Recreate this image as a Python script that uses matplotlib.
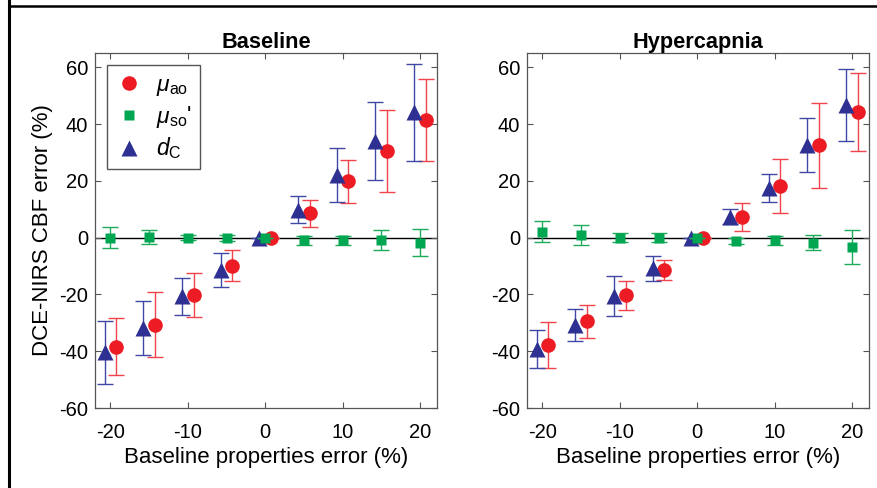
"""DCE-NIRS CBF error vs baseline properties error (two panels)."""

import matplotlib
matplotlib.use("agg")
import matplotlib.pyplot as plt
from matplotlib.lines import Line2D
import numpy as np

plt.rcParams["font.family"] = ["Liberation Sans", "DejaVu Sans"]
plt.rcParams["mathtext.fontset"] = "custom"
plt.rcParams["mathtext.rm"] = "Liberation Sans"
plt.rcParams["mathtext.it"] = "Liberation Sans:italic"
plt.rcParams["axes.unicode_minus"] = False

# baseline property errors (%)
prop_err = [-20, -15, -10, -5, 0, 5, 10, 15, 20]

# Baseline panel
base_mua = [-38.4, -30.7, -20.3, -9.9, 0.0, 8.6, 19.8, 30.5, 41.4]
base_mua_sd = [10.0, 11.4, 7.8, 5.4, 0.0, 4.7, 7.7, 14.5, 14.4]
base_mus = [0.0, 0.3, 0.0, -0.2, 0.0, -1.0, -1.0, -0.8, -1.8]
base_mus_sd = [3.7, 2.5, 1.0, 1.0, 0.0, 1.5, 1.5, 3.5, 4.7]
base_dc = [-40.4, -31.7, -20.6, -11.4, 0.0, 9.8, 22.0, 34.0, 44.1]
base_dc_sd = [11.0, 9.5, 6.5, 6.0, 0.0, 4.8, 9.5, 13.8, 17.0]

# Hypercapnia panel
hyper_mua = [-37.8, -29.5, -20.3, -11.4, 0.0, 7.2, 18.3, 32.5, 44.1]
hyper_mua_sd = [8.0, 5.8, 5.1, 3.5, 0.0, 5.0, 9.5, 15.0, 13.7]
hyper_mus = [2.1, 1.0, 0.0, 0.0, 0.0, -1.2, -1.0, -1.8, -3.4]
hyper_mus_sd = [3.8, 3.5, 1.5, 1.5, 0.0, 1.2, 1.5, 2.6, 6.0]
hyper_dc = [-39.2, -30.9, -20.6, -10.8, 0.0, 7.4, 17.5, 32.5, 46.6]
hyper_dc_sd = [6.8, 5.6, 7.0, 4.5, 0.0, 2.5, 5.0, 9.5, 12.7]

panel_titles = ["Baseline", "Hypercapnia"]
series_labels = [r"$\mu_{\rm ao}$", r"$\mu_{\rm so}$'", r"$d_{\rm C}$"]

RED, RED_BAR = "#ED1C24", "#F0434A"
GREEN, GREEN_BAR = "#00A651", "#1DAA5A"
BLUE, BLUE_BAR = "#2E3192", "#4048A6"
SPINE = "#555555"

fig = plt.figure(figsize=(8.78, 4.88), dpi=100)

# outer frame lines (left and top) of the original figure
fig.add_artist(Line2D([0.0105, 0.0105], [0, 1.0], transform=fig.transFigure,
                      color="black", lw=2.2))
fig.add_artist(Line2D([0.0105, 1.0], [0.988, 0.988], transform=fig.transFigure,
                      color="black", lw=1.8))

panels = [
    (base_mua, base_mua_sd, base_mus, base_mus_sd, base_dc, base_dc_sd),
    (hyper_mua, hyper_mua_sd, hyper_mus, hyper_mus_sd, hyper_dc, hyper_dc_sd),
]
lefts = [0.1082, 0.6002]
x = np.array(prop_err, dtype=float)
dx = 0.75

for i, (mua, mua_sd, mus, mus_sd, dc, dc_sd) in enumerate(panels):
    ax = fig.add_axes([lefts[i], 0.1639, 0.3895, 0.7275])
    ax.axhline(0, color="black", lw=1.0, zorder=1)

    ax.errorbar(x + dx, mua, yerr=mua_sd, fmt="none", ecolor=RED_BAR,
                elinewidth=1.0, capsize=5.5, capthick=1.0, zorder=2)
    ax.plot(x + dx, mua, "o", color=RED, ms=10.5, mec="none", zorder=3)

    ax.errorbar(x - dx, dc, yerr=dc_sd, fmt="none", ecolor=BLUE_BAR,
                elinewidth=1.0, capsize=5.5, capthick=1.0, zorder=2)
    ax.plot(x - dx, dc, "^", color=BLUE, ms=11, mec="none", zorder=3)

    ax.errorbar(x, mus, yerr=mus_sd, fmt="none", ecolor=GREEN_BAR,
                elinewidth=1.0, capsize=5.5, capthick=1.0, zorder=4)
    ax.plot(x, mus, "s", color=GREEN, ms=7, mec="none", zorder=5)

    ax.set_xlim(-22, 22.2)
    ax.set_ylim(-60, 65)
    ax.set_xticks([-20, -10, 0, 10, 20])
    ax.set_yticks([-60, -40, -20, 0, 20, 40, 60])
    ax.tick_params(direction="in", top=True, right=True, length=4,
                   width=0.8, color=SPINE, labelsize=14.5)
    ax.tick_params(axis="x", pad=10.5)
    ax.tick_params(axis="y", pad=5)
    for sp in ax.spines.values():
        sp.set_color(SPINE)
        sp.set_linewidth(0.9)

    ax.set_title(panel_titles[i], fontsize=15.7, fontweight="bold", pad=3.6)
    ax.set_xlabel("Baseline properties error (%)", fontsize=16, labelpad=4)
    if i == 0:
        ax.set_ylabel("DCE-NIRS CBF error (%)", fontsize=16, labelpad=4)
        handles = [
            Line2D([], [], ls="none", marker="o", color=RED, ms=10.5, mec="none"),
            Line2D([], [], ls="none", marker="s", color=GREEN, ms=7, mec="none"),
            Line2D([], [], ls="none", marker="^", color=BLUE, ms=11, mec="none"),
        ]
        leg = ax.legend(handles, series_labels, loc="upper left",
                        bbox_to_anchor=(0.035, 0.966), borderaxespad=0,
                        fontsize=16.5, handlelength=1.2, handletextpad=0.6,
                        labelspacing=0.25, borderpad=0.35, fancybox=False,
                        framealpha=1)
        leg.get_frame().set_edgecolor(SPINE)
        leg.get_frame().set_linewidth(1.0)

fig.savefig("out.png", dpi=100)
